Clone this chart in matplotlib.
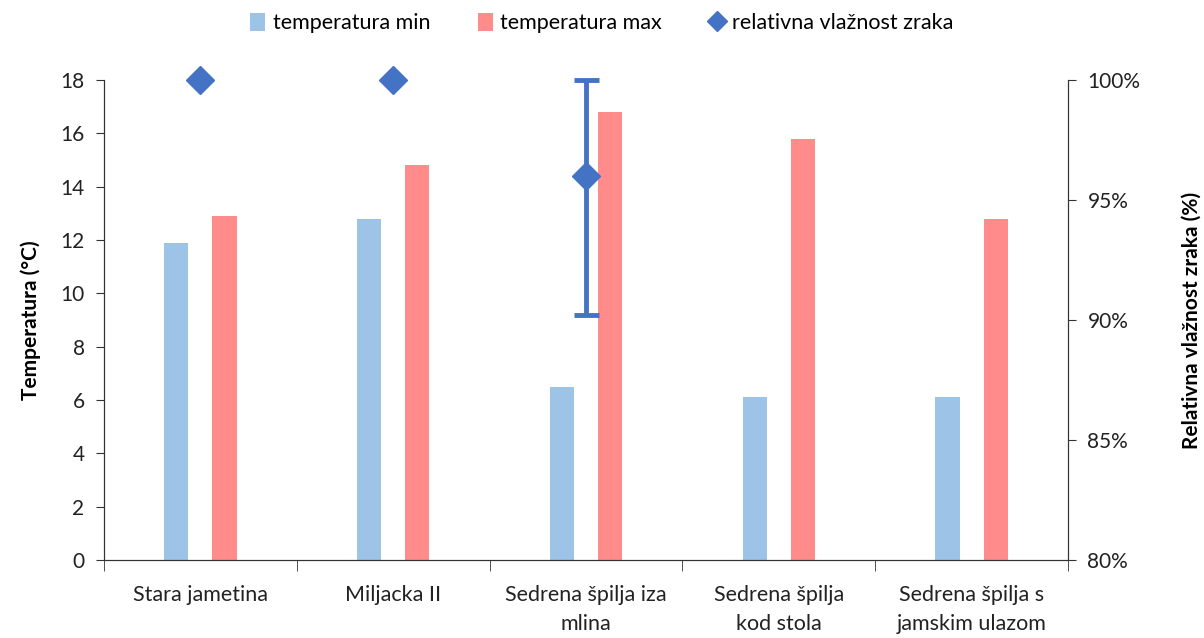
import numpy as np
import matplotlib
matplotlib.use("Agg")
import matplotlib.pyplot as plt
from matplotlib.ticker import FixedLocator, PercentFormatter

plt.rcParams["font.family"] = ["Lato", "DejaVu Sans"]

locations = [
    "Stara jametina",
    "Miljacka II",
    "Sedrena špilja iza\nmlina",
    "Sedrena špilja\nkod stola",
    "Sedrena špilja s\njamskim ulazom",
]
temp_min = [11.9, 12.8, 6.5, 6.1, 6.1]
temp_max = [12.9, 14.8, 16.8, 15.8, 12.8]
humidity = [100, 100, 96, np.nan, np.nan]
humidity_low = [100, 100, 90.2, np.nan, np.nan]
humidity_high = [100, 100, 100, np.nan, np.nan]

BLUE_LIGHT = "#9DC3E6"
RED_LIGHT = "#FF8B8B"
BLUE = "#4472C4"

fig = plt.figure(figsize=(12.04, 6.38), dpi=100)
ax = fig.add_axes([0.0864, 0.1223, 0.8006, 0.7523])
ax2 = ax.twinx()

x = np.arange(len(locations))
width = 0.125
ax.bar(x - 0.125, temp_min, width, color=BLUE_LIGHT, label="temperatura min")
ax.bar(x + 0.125, temp_max, width, color=RED_LIGHT, label="temperatura max")

# humidity: mean with min-max range
hum = np.array(humidity, dtype=float)
err_lo = hum - np.array(humidity_low, dtype=float)
err_hi = np.array(humidity_high, dtype=float) - hum
mask = ~np.isnan(hum) & ((err_lo > 0) | (err_hi > 0))
ax2.errorbar(x[mask], hum[mask], yerr=[err_lo[mask], err_hi[mask]], fmt="none",
             ecolor=BLUE, elinewidth=3.5, capsize=9, capthick=3.5, clip_on=False)
pts = ~np.isnan(hum)
ax2.plot(x[pts], hum[pts], linestyle="none", marker="D", markersize=14,
         color=BLUE, clip_on=False, label="relativna vlažnost zraka", zorder=5)

ax.set_xlim(-0.5, len(locations) - 0.5)
ax.set_ylim(0, 18)
ax.set_yticks(range(0, 19, 2))
ax2.set_ylim(80, 100)
ax2.set_yticks(range(80, 101, 5))
ax2.yaxis.set_major_formatter(PercentFormatter(decimals=0))

ax.set_xticks(x)
ax.set_xticklabels(locations, fontsize=15.5, color="#222222", linespacing=1.55)
ax.tick_params(axis="x", which="major", length=0, pad=18)
ax.xaxis.set_minor_locator(FixedLocator(np.arange(-0.5, len(locations), 1.0)))
ax.tick_params(axis="x", which="minor", length=8, direction="out", color="#333333")
ax.tick_params(axis="y", length=6, direction="out", labelsize=15, color="#333333",
               labelcolor="#222222", pad=8)
ax2.tick_params(axis="y", length=6, direction="out", labelsize=15, color="#333333",
                labelcolor="#222222", pad=8)

for a in (ax, ax2):
    a.spines["top"].set_visible(False)
    for s in ("left", "right", "bottom"):
        a.spines[s].set_color("#333333")

ax.set_ylabel("Temperatura (°C)", fontsize=15, fontweight="bold", labelpad=14)
ax2.set_ylabel("Relativna vlažnost zraka (%)", fontsize=15, fontweight="bold", labelpad=30)

h1, l1 = ax.get_legend_handles_labels()
h2, l2 = ax2.get_legend_handles_labels()
leg = fig.legend(h1 + h2, l1 + l2, loc="upper center", bbox_to_anchor=(0.5, 1.01),
                 ncol=3, frameon=False, fontsize=15.5, handlelength=0.7,
                 handleheight=0.9, columnspacing=2.2, handletextpad=0.35)
for h in leg.legend_handles[2:]:
    h.set_markersize(10)

fig.savefig("out.png", dpi=100)
